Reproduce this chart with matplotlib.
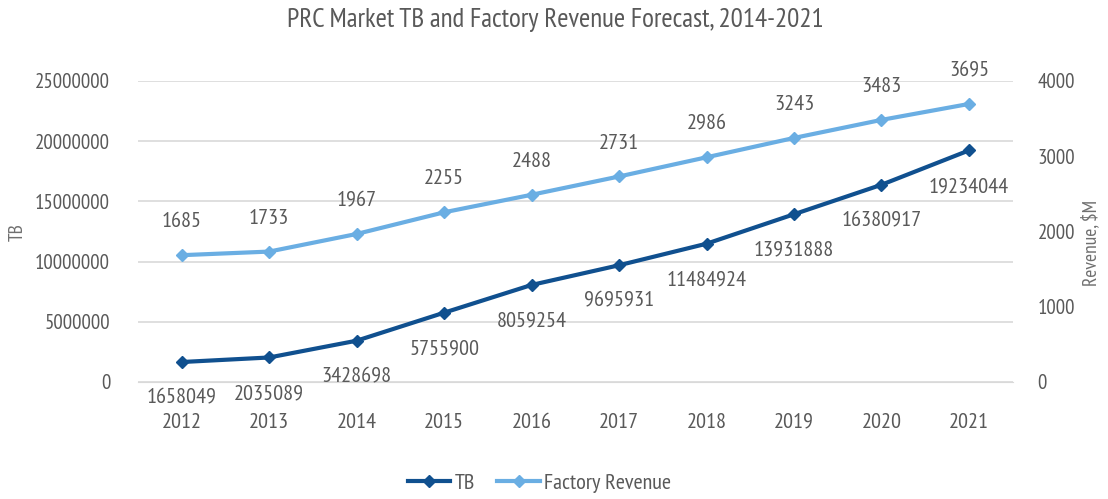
import numpy as np
import matplotlib.pyplot as plt

years = ['2012', '2013', '2014', '2015', '2016', '2017', '2018', '2019', '2020', '2021']
tb = [1658049, 2035089, 3428698, 5755900, 8059254, 9695931, 11484924, 13931888, 16380917, 19234044]
revenue = [1685, 1733, 1967, 2255, 2488, 2731, 2986, 3243, 3483, 3695]

plt.rcParams['font.family'] = ['PT Sans Narrow', 'DejaVu Sans']
grey = '#595959'
dark = '#10508f'
light = '#6aaee3'
fs = 15

fig = plt.figure(figsize=(11.08, 4.99), dpi=100)
ax = fig.add_axes([0.1245, 0.2345, 0.7895, 0.6032])
ax2 = ax.twinx()

x = np.arange(len(years))
l1, = ax.plot(x, tb, color=dark, lw=3, marker='D', ms=6, label='TB', zorder=3)
l2, = ax2.plot(x, revenue, color=light, lw=3, marker='D', ms=6, label='Factory Revenue', zorder=3)

for xi, v in zip(x, tb):
    ax.annotate(str(v), (xi, v), xytext=(0, -26), textcoords='offset points',
                ha='center', va='center', fontsize=fs + 1, color=grey)
for xi, v in zip(x, revenue):
    ax2.annotate(str(v), (xi, v), xytext=(0, 24), textcoords='offset points',
                 ha='center', va='center', fontsize=fs + 1, color=grey)

ax.set_xlim(-0.5, 9.5)
ax.set_ylim(0, 25000000)
ax2.set_ylim(0, 4000)
ax.set_yticks(np.arange(0, 25000001, 5000000))
ax2.set_yticks(np.arange(0, 4001, 1000))
ax.set_xticks(x)
ax.set_xticklabels(years)
ax.yaxis.set_major_formatter(plt.FuncFormatter(lambda v, p: f"{int(v)}"))

ax.grid(axis='y', color='#d9d9d9', lw=1.2)
ax.set_axisbelow(True)
for a in (ax, ax2):
    for s in a.spines.values():
        s.set_visible(False)
    a.tick_params(length=0, labelsize=fs, colors=grey)
ax.spines['bottom'].set_visible(True)
ax.spines['bottom'].set_color('#d9d9d9')
ax.tick_params(axis='x', pad=22, labelsize=fs + 1)
ax.tick_params(axis='y', pad=20)
ax2.tick_params(axis='y', pad=18)

# axis titles placed by hand, like the original
fig.text(18 / 1108, 1 - 232 / 499, 'TB', rotation=90, ha='center', va='center',
         fontsize=14, color='#6f6f6f')
fig.text(1091 / 1108, 1 - 243 / 499, 'Revenue, $M', rotation=90, ha='center', va='center',
         fontsize=14, color='#6f6f6f')

fig.suptitle('PRC Market TB and Factory Revenue Forecast, 2014-2021', x=0.501, y=0.983,
             fontsize=19.5, color=grey)
fig.legend(handles=[l1, l2], loc='center', bbox_to_anchor=(0.487, 0.032), ncol=2,
           frameon=False, fontsize=fs + 1, labelcolor=grey, handlelength=1.9,
           columnspacing=1.0, handletextpad=0.2)

fig.savefig('out.png', dpi=100)
